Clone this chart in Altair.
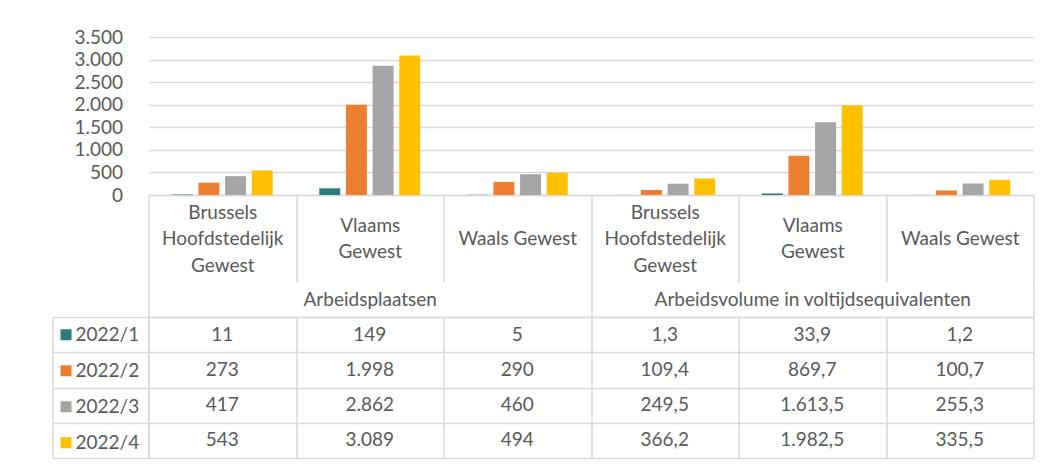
import altair as alt
import pandas as pd

# ---- data ----
groups = ["Arbeidsplaatsen", "Arbeidsvolume in voltijdsequivalenten"]
region_lines = [["Brussels", "Hoofdstedelijk", "Gewest"], ["Vlaams", "Gewest"], ["Waals Gewest"]]
series = ["2022/1", "2022/2", "2022/3", "2022/4"]
colors = ["#2E7B7C", "#ED7D31", "#A5A5A5", "#FFC000"]

plaatsen_q1 = [11, 149, 5]
plaatsen_q2 = [273, 1998, 290]
plaatsen_q3 = [417, 2862, 460]
plaatsen_q4 = [543, 3089, 494]

volume_q1 = [1.3, 33.9, 1.2]
volume_q2 = [109.4, 869.7, 100.7]
volume_q3 = [249.5, 1613.5, 255.3]
volume_q4 = [366.2, 1982.5, 335.5]

y_ticks = [0, 500, 1000, 1500, 2000, 2500, 3000, 3500]

# ---- tables built from the arrays ----
plaatsen = [plaatsen_q1, plaatsen_q2, plaatsen_q3, plaatsen_q4]
volume = [volume_q1, volume_q2, volume_q3, volume_q4]


def fmt_int(v):
    return f"{v:,.0f}".replace(",", ".")


def fmt_dec(v):
    return f"{v:,.1f}".replace(",", "X").replace(".", ",").replace("X", ".")


keys = []
rows = []
for gi, (vals, fmt) in enumerate([(plaatsen, fmt_int), (volume, fmt_dec)]):
    for ri, lines in enumerate(region_lines):
        key = f"{gi}{ri}|" + "|".join(lines)
        keys.append(key)
        for si, s in enumerate(series):
            v = vals[si][ri]
            rows.append({"key": key, "series": s, "value": v, "label": fmt(v)})
df = pd.DataFrame(rows)
gdf = pd.DataFrame({"group": groups})
sdf = pd.DataFrame({"series": series})

FONT = "Lato"
TXT = "#595959"
LINE = "#D9D9D9"
LW = 1.5
FS = 19
W = 885
H1 = 158
H2 = 141
HDR = 87      # height of the category header band
LH = 26.5     # line height of the wrapped category labels

color_scale = alt.Scale(domain=series, range=colors)


def pad_for(n):
    # first line position so that an n-line label is centred in the header band
    return HDR / 2 - (n - 1) * LH / 2 - HDR


label_padding = {
    "condition": [
        {"test": "length(split(datum.value, '|')) == 4", "value": pad_for(3)},
        {"test": "length(split(datum.value, '|')) == 3", "value": pad_for(2)},
    ],
    "value": pad_for(1),
}

bars = alt.Chart(df).mark_bar().encode(
    x=alt.X(
        "key:N", sort=keys, title=None,
        scale=alt.Scale(paddingInner=0, paddingOuter=0),
        axis=alt.Axis(
            orient="bottom", domain=True, domainColor=LINE, domainWidth=LW,
            ticks=True, tickBand="extent", tickSize=HDR, tickColor=LINE, tickWidth=LW,
            labelExpr="slice(split(datum.value, '|'), 1)", labelAngle=0,
            labelPadding=label_padding, labelBaseline="middle", labelLineHeight=LH,
            labelFont=FONT, labelFontSize=FS, labelColor=TXT, labelLimit=300,
            grid=False,
        ),
    ),
    xOffset=alt.XOffset("series:N", sort=series,
                        scale=alt.Scale(paddingInner=0.213, paddingOuter=0.873)),
    y=alt.Y(
        "value:Q", title=None, scale=alt.Scale(domain=[0, 3500], nice=False),
        axis=alt.Axis(
            values=y_ticks, labelExpr="replace(format(datum.value, ','), ',', '.')",
            domain=False, ticks=False, grid=True, gridColor=LINE, gridWidth=LW,
            labelPadding=26, labelFont=FONT, labelFontSize=FS, labelColor=TXT,
        ),
    ),
    color=alt.Color("series:N", sort=series, scale=color_scale, legend=None),
).properties(width=W, height=H1)

cells = alt.Chart(df).mark_text(font=FONT, fontSize=FS, color=TXT).encode(
    x=alt.X(
        "key:N", sort=keys, title=None,
        scale=alt.Scale(paddingInner=0, paddingOuter=0),
        axis=alt.Axis(orient="bottom", labels=False, ticks=False, domain=False,
                      grid=True, tickBand="extent", gridColor=LINE, gridWidth=LW),
    ),
    y=alt.Y(
        "series:N", sort=series, title=None,
        scale=alt.Scale(paddingInner=0, paddingOuter=0),
        axis=alt.Axis(orient="left", labels=False, ticks=True, tickBand="extent",
                      tickSize=96, tickColor=LINE, tickWidth=LW,
                      domain=True, domainColor=LINE, domainWidth=LW,
                      grid=True, gridColor=LINE, gridWidth=LW),
    ),
    text="label:N",
)

grp = alt.Chart(gdf).mark_text(text="").encode(
    x=alt.X(
        "group:N", sort=groups, title=None,
        scale=alt.Scale(paddingInner=0, paddingOuter=0),
        axis=alt.Axis(orient="top", domain=True, domainColor=LINE, domainWidth=LW,
                      ticks=True, tickBand="extent", tickSize=35, tickColor=LINE, tickWidth=LW,
                      labelPadding=-17.5, labelBaseline="middle", labelAngle=0,
                      labelFont=FONT, labelFontSize=FS, labelColor=TXT, labelLimit=500,
                      grid=False),
    ),
)

leg = alt.Chart(sdf).mark_text(text="").encode(
    y=alt.Y(
        "series:N", sort=series, title=None,
        scale=alt.Scale(paddingInner=0, paddingOuter=0),
        axis=alt.Axis(orient="left", offset=96, labels=False, ticks=False, grid=False,
                      domain=True, domainColor=LINE, domainWidth=LW),
    ),
    color=alt.Color(
        "series:N", sort=series, scale=color_scale,
        legend=alt.Legend(title=None, orient="none", legendX=-92, legendY=0,
                          symbolType="square", symbolSize=121, symbolStrokeWidth=0,
                          clipHeight=35.3, rowPadding=0, padding=0, labelOffset=0,
                          labelFont=FONT, labelFontSize=FS, labelColor=TXT),
    ),
)

table = alt.layer(cells, grp, leg).resolve_scale(x="independent").resolve_axis(
    x="independent", y="independent"
).properties(width=W, height=H2)

chart = alt.vconcat(bars, table, spacing=122, bounds="flush").resolve_scale(
    color="independent"
).properties(
    padding={"left": 43.5, "top": 20, "right": 5, "bottom": 5}
).configure_view(stroke=None)

chart.save("out.html", embed_options={"renderer": "svg", "actions": False})
